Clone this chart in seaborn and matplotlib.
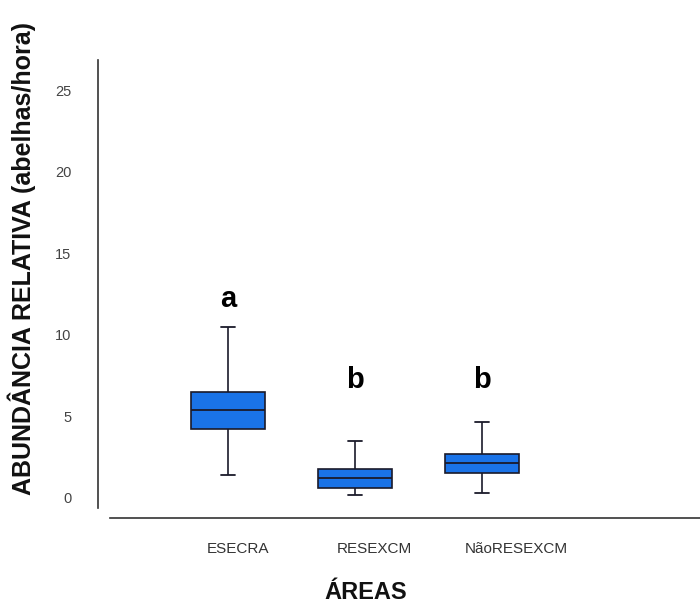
import numpy as np
import pandas as pd
import matplotlib
matplotlib.use("Agg")
import matplotlib.pyplot as plt
import matplotlib.transforms as mtransforms
import seaborn as sns

# Data: five-number summary per area
areas = ["ESECRA", "RESEXCM", "NãoRESEXCM"]
mins = [1.4, 0.2, 0.3]
q1s = [4.2, 0.6, 1.55]
medians = [5.4, 1.2, 2.15]
q3s = [6.5, 1.75, 2.7]
maxs = [10.45, 3.5, 4.65]
letters = ["a", "b", "b"]
letter_y = [12.2, 7.2, 7.2]
yticks = [0, 5, 10, 15, 20, 25]

rows = []
for i, a in enumerate(areas):
    for v in (mins[i], q1s[i], medians[i], q3s[i], maxs[i]):
        rows.append({"area": a, "value": v})
df = pd.DataFrame(rows)

sns.set_style("white")
plt.rcParams["font.family"] = ["Liberation Sans", "DejaVu Sans"]

fig = plt.figure(figsize=(7.0, 6.15), dpi=100)
ax = fig.add_axes([98 / 700, 1 - 518 / 615, 602 / 700, 458 / 615])

BOXW = 0.59
sns.boxplot(data=df, x="area", y="value", order=areas, whis=(0, 100),
            width=BOXW, color="#1a73e8", saturation=1, linewidth=1.2,
            linecolor="#1a1a2a", ax=ax,
            boxprops=dict(facecolor="#1a73e8", edgecolor="#1a1a2a"),
            medianprops=dict(color="#1a1a2a", linewidth=1.3),
            capprops=dict(color="#1a1a2a", linewidth=1.3),
            whiskerprops=dict(color="#1a1a2a", linewidth=1.2),
            showfliers=False)

# narrower whisker caps, as in the reference
capw = 0.115
for ln in ax.lines:
    xd = np.asarray(ln.get_xdata(), dtype=float)
    yd = np.asarray(ln.get_ydata(), dtype=float)
    if len(xd) == 2 and np.isclose(yd[0], yd[1]):
        w = abs(xd[1] - xd[0])
        if np.isclose(w, BOXW / 2, atol=0.02):
            c = xd.mean()
            ln.set_xdata([c - capw / 2, c + capw / 2])

ax.set_xlim(-1.024, 3.717)
ax.set_ylim(-1.23, 26.84)

for i, (lt, ly) in enumerate(zip(letters, letter_y)):
    ax.text(i, ly, lt, ha="center", va="center", fontsize=21,
            fontweight="bold", color="black")

for s in ["top", "right"]:
    ax.spines[s].set_visible(False)
ax.spines["left"].set_bounds(-0.6, 26.84)
ax.spines["bottom"].set_bounds(-0.93, 3.717)
ax.spines["left"].set_color("#333333")
ax.spines["bottom"].set_color("#333333")
ax.spines["left"].set_linewidth(1.2)
ax.spines["bottom"].set_linewidth(1.2)

ax.set_yticks(yticks)
ax.set_yticklabels([str(t) for t in yticks])
ax.tick_params(axis="y", length=0, pad=19, labelsize=10.5, labelcolor="#444444")
ax.tick_params(axis="x", length=0, pad=17, labelsize=11, labelcolor="#333333")

# the category labels sit slightly to the right of their boxes
offsets_px = [10, 19, 34]
for lab, dx in zip(ax.get_xticklabels(), offsets_px):
    lab.set_transform(lab.get_transform() +
                      mtransforms.ScaledTranslation(dx / 100, 0, fig.dpi_scale_trans))

ax.set_ylabel("ABUNDÂNCIA RELATIVA (abelhas/hora)", fontsize=18,
              fontweight="bold", color="#111111")
ax.yaxis.set_label_coords(-0.103, 0.566)
ax.set_xlabel("ÁREAS", fontsize=17, fontweight="bold", color="#111111")
ax.xaxis.set_label_coords(0.445, -0.138)

fig.savefig("out.png", dpi=100)
